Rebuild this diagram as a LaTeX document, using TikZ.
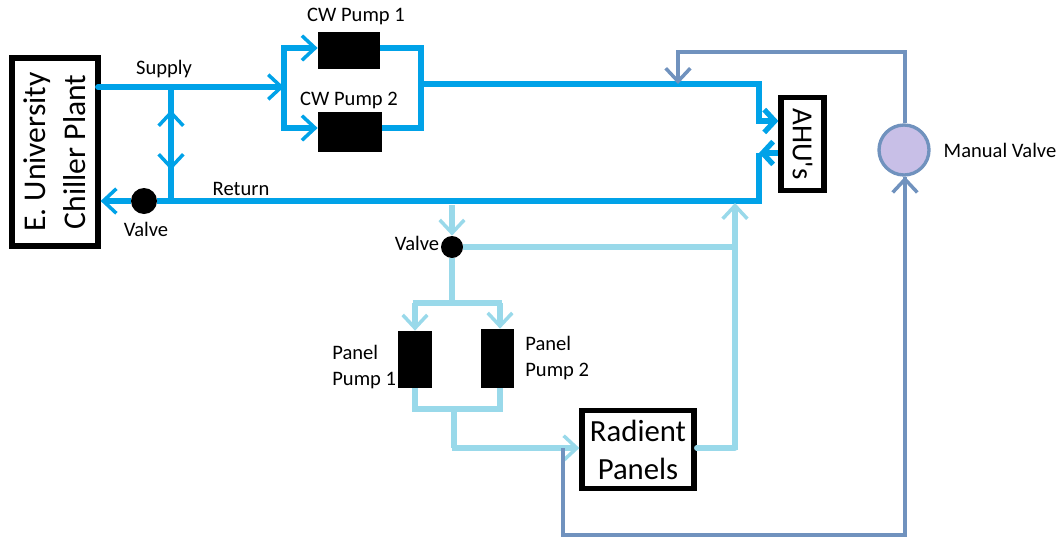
\documentclass[tikz,border=0pt]{standalone}
\usepackage{fontspec}
\setmainfont{Carlito}
\usetikzlibrary{arrows.meta}
\definecolor{chilled}{HTML}{00A2E8}
\definecolor{panelwater}{HTML}{99D9EA}
\definecolor{bypass}{HTML}{7092BE}
\definecolor{manualfill}{HTML}{C8BFE7}
\tikzset{
  chilledline/.style={draw=chilled,line width=3.3pt},
  panelline/.style={draw=panelwater,line width=2.9pt},
  bypassline/.style={draw=bypass,line width=1.9pt},
  tip/.style={-{Straight Barb[length=7.5pt,width=14pt,line width=2pt]}},
  fattip/.style={-{Straight Barb[length=6pt,width=13pt,line width=3pt]}},
  plantbox/.style={draw=black,fill=white,line width=3pt,inner sep=0pt,align=center,font=\fontsize{18}{22.5}\selectfont},
  pump/.style={fill=black,inner sep=0pt},
  valve/.style={circle,fill=black,inner sep=0pt},
  lbl/.style={font=\fontsize{11.7}{15}\selectfont,inner sep=0pt,align=left},
}
\begin{document}
\begin{tikzpicture}[x=0.02cm,y=-0.02cm]
\useasboundingbox (0,0) rectangle (1060,538);
% plant and loads
\node[plantbox,rotate=90,minimum width=3.76cm,minimum height=1.72cm] (chiller) at (55,152) {E. University\\Chiller Plant};
\node[plantbox,rotate=-90,minimum width=1.86cm,minimum height=0.86cm,font=\fontsize{16.5}{20}\selectfont] (ahu) at (802.5,144) {AHU\textquotesingle s};
\node[plantbox,minimum width=2.24cm,minimum height=1.56cm,font=\fontsize{17.5}{21.6}\selectfont] (radient) at (638,449.5) {Radient\\Panels};
% pumps
\node[pump,minimum width=1.24cm,minimum height=0.74cm] (cw1) at (349,50.5) {};
\node[pump,minimum width=1.28cm,minimum height=0.80cm] (cw2) at (350,132) {};
\node[pump,minimum width=0.68cm,minimum height=1.14cm] (pp1) at (415,359.5) {};
\node[pump,minimum width=0.66cm,minimum height=1.18cm] (pp2) at (497.5,358.5) {};
% valves
\node[valve,minimum size=0.52cm] (chvalve) at (144,201) {};
\node[valve,minimum size=0.44cm] (pnvalve) at (452,247) {};
\node[circle,draw=bypass,fill=manualfill,line width=1.9pt,inner sep=0pt,minimum size=1cm] (manual) at (904,150) {};
% junctions
\coordinate (supl) at (98,87);
\coordinate (supj) at (171,87);
\coordinate (retj) at (171,201);
\coordinate (linkup) at (171,110);
\coordinate (linkdn) at (171,170);
\coordinate (cwin) at (284,87);
\coordinate (cwtl) at (284,48);
\coordinate (cwbl) at (284,128);
\coordinate (cwtr) at (418,48);
\coordinate (cwbr) at (418,128);
\coordinate (cwout) at (418,84);
\coordinate (bypin) at (678,84);
\coordinate (topr) at (759,84);
\coordinate (ahuin) at (759,121);
\coordinate (ahuout) at (759,153);
\coordinate (retr) at (759,201);
\coordinate (pntap) at (452,205);
\coordinate (pnsplit) at (452,303);
\coordinate (pnl) at (415,303);
\coordinate (pnr) at (500,303);
\coordinate (pbl) at (415,409);
\coordinate (pbr) at (500,409);
\coordinate (pbm) at (454,409);
\coordinate (pbin) at (454,448);
\coordinate (pnret) at (735,448);
\coordinate (pnvj) at (735,247);
\coordinate (pntop) at (735,203);
\coordinate (bypbl) at (563,535);
\coordinate (bypbr) at (905,535);
\coordinate (bypst) at (563,448);
\coordinate (byptr) at (905,52);
\coordinate (byptl) at (678,52);
% chilled water
\draw[chilledline,line cap=round] (supl) -- (supj);
\draw[chilledline,tip] (supj) -- (cwin);
\draw[chilledline] (cwtl) -- (cwbl);
\draw[chilledline,tip,shorten <=-1.6pt] (cwtl) -- (cwtl -| cw1.west);
\draw[chilledline,tip,shorten <=-1.6pt] (cwbl) -- (cwbl -| cw2.west);
\draw[chilledline] (cw1.east |- cwtr) -- ([xshift=1.6pt]cwtr) -- ([xshift=1.6pt]cwbr) -- (cw2.east |- cwbr);
\draw[chilledline,line join=miter] (cwout) -- (topr) -- (ahuin);
\draw[chilledline,fattip,shorten <=-1.6pt] (ahuin) -- (ahuin -| ahu.south);
\draw[chilledline,fattip] (ahuout -| ahu.south) -- (ahuout);
\draw[chilledline] (ahuout) -- (retr) -- (retj);
\draw[chilledline] (retj) -- (chvalve);
\draw[chilledline,tip] (chvalve) -- (retj -| chiller.south);
\draw[chilledline] (supj) -- (retj);
\draw[chilledline,tip] (retj) -- (linkup);
\draw[chilledline,tip] (supj) -- (linkdn);
% panel water
\draw[panelline,tip] (pntap) -- (pnvalve);
\draw[panelline] (pnvalve) -- (pnsplit);
\draw[panelline] (pnvalve) -- (pnvj);
\draw[panelline,tip] (pnl) -- (pp1.north);
\draw[panelline,tip] (pnr) -- (pnr |- pp2.north);
\draw[panelline] ([xshift=-1.4pt]pnl) -- ([xshift=1.4pt]pnr);
\draw[panelline] (pp1.south) -- (pbl) -- (pbr) -- (pbr |- pp2.south);
\draw[panelline] (pbm) -- (pbin);
\draw[panelline,tip,shorten <=-1.4pt] (pbin) -- (pbin -| radient.west);
\draw[panelline,line cap=round] (radient.east |- pnret) -- (pnret);
\draw[panelline,tip,shorten <=-1.4pt] (pnret) -- (pntop);
% bypass
\draw[bypassline,line join=miter] (bypst) -- (bypbl) -- (bypbr) -- ([yshift=-0.3pt]bypbr |- manual.south);
\draw[bypassline,tip] (bypbr) -- (bypbr |- manual.south);
\draw[bypassline] (byptr |- manual.north) -- (byptr) -- (byptl);
\draw[bypassline,tip,shorten <=-0.9pt] (byptl) -- (bypin);
% labels
\node[lbl] (lsupply) at (164,69) {Supply};
\node[lbl] (lreturn) at (241,189) {Return};
\node[lbl] (lvalvea) at (146,229) {Valve};
\node[lbl] (lvalveb) at (417,243) {Valve};
\node[lbl] (lcw1) at (356,16) {CW Pump 1};
\node[lbl] (lcw2) at (349,100) {CW Pump 2};
\node[lbl,anchor=west] (lpp1) at (332,367) {Panel\\Pump 1};
\node[lbl,anchor=west] (lpp2) at (525,358) {Panel\\Pump 2};
\node[lbl] (lmanual) at (1000,150) {Manual Valve};
\end{tikzpicture}
\end{document}
